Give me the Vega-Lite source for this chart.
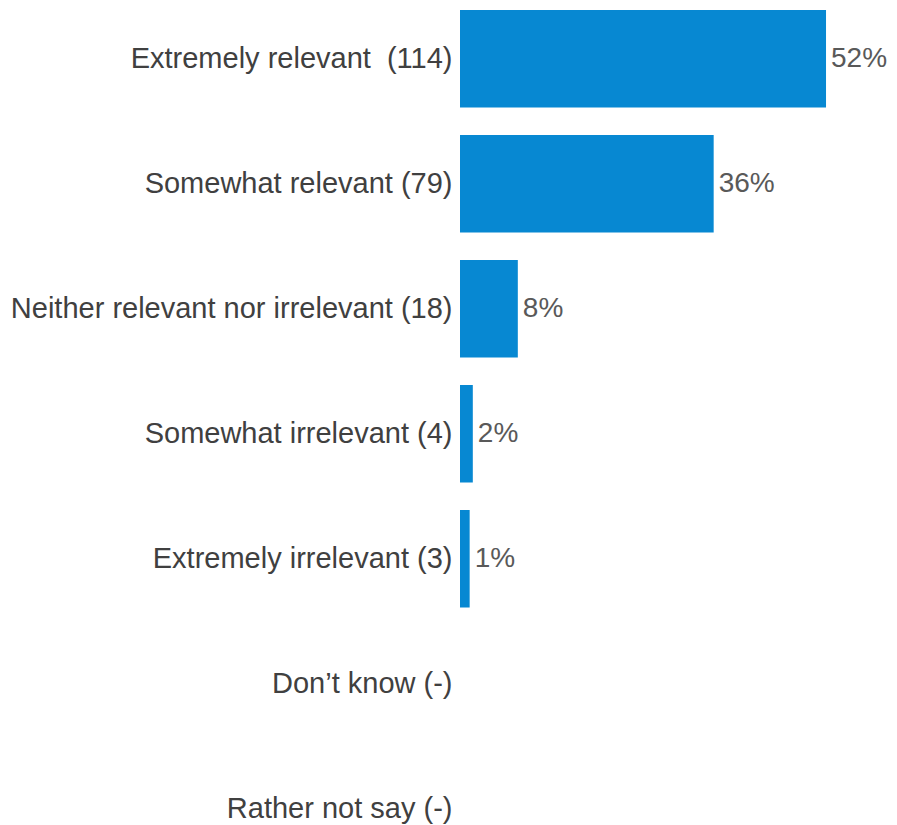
{
  "$schema": "https://vega.github.io/schema/vega-lite/v6.json",
  "autosize": "none",
  "padding": {"left": 460, "top": 0, "right": 0, "bottom": 0},
  "width": 437,
  "height": 867.5,
  "background": "white",
  "config": {"view": {"stroke": null}},
  "data": {
    "values": [
      {"label": "Extremely relevant\u00a0 (114)", "value": 52.29, "pct": "52%"},
      {"label": "Somewhat relevant (79)", "value": 36.24, "pct": "36%"},
      {"label": "Neither relevant nor irrelevant (18)", "value": 8.26, "pct": "8%"},
      {"label": "Somewhat irrelevant (4)", "value": 1.83, "pct": "2%"},
      {"label": "Extremely irrelevant (3)", "value": 1.38, "pct": "1%"},
      {"label": "Don’t know (-)", "value": 0, "pct": ""},
      {"label": "Rather not say (-)", "value": 0, "pct": ""}
    ]
  },
  "encoding": {
    "y": {
      "field": "label",
      "type": "nominal",
      "sort": null,
      "scale": {"paddingInner": 0.22, "paddingOuter": 0.08},
      "axis": {
        "title": null,
        "domain": false,
        "ticks": false,
        "labelPadding": 8,
        "labelFont": "Arial, Liberation Sans, sans-serif",
        "labelFontSize": 29,
        "labelColor": "#404040",
        "labelLimit": 0
      }
    },
    "x": {
      "field": "value",
      "type": "quantitative",
      "scale": {"domain": [0, 62.43]},
      "axis": null
    }
  },
  "layer": [
    {"mark": {"type": "bar", "color": "#0788d2"}},
    {
      "mark": {
        "type": "text",
        "align": "left",
        "baseline": "middle",
        "dx": 5,
        "font": "Arial, Liberation Sans, sans-serif",
        "fontSize": 28,
        "color": "#595959"
      },
      "encoding": {"text": {"field": "pct"}}
    }
  ]
}
